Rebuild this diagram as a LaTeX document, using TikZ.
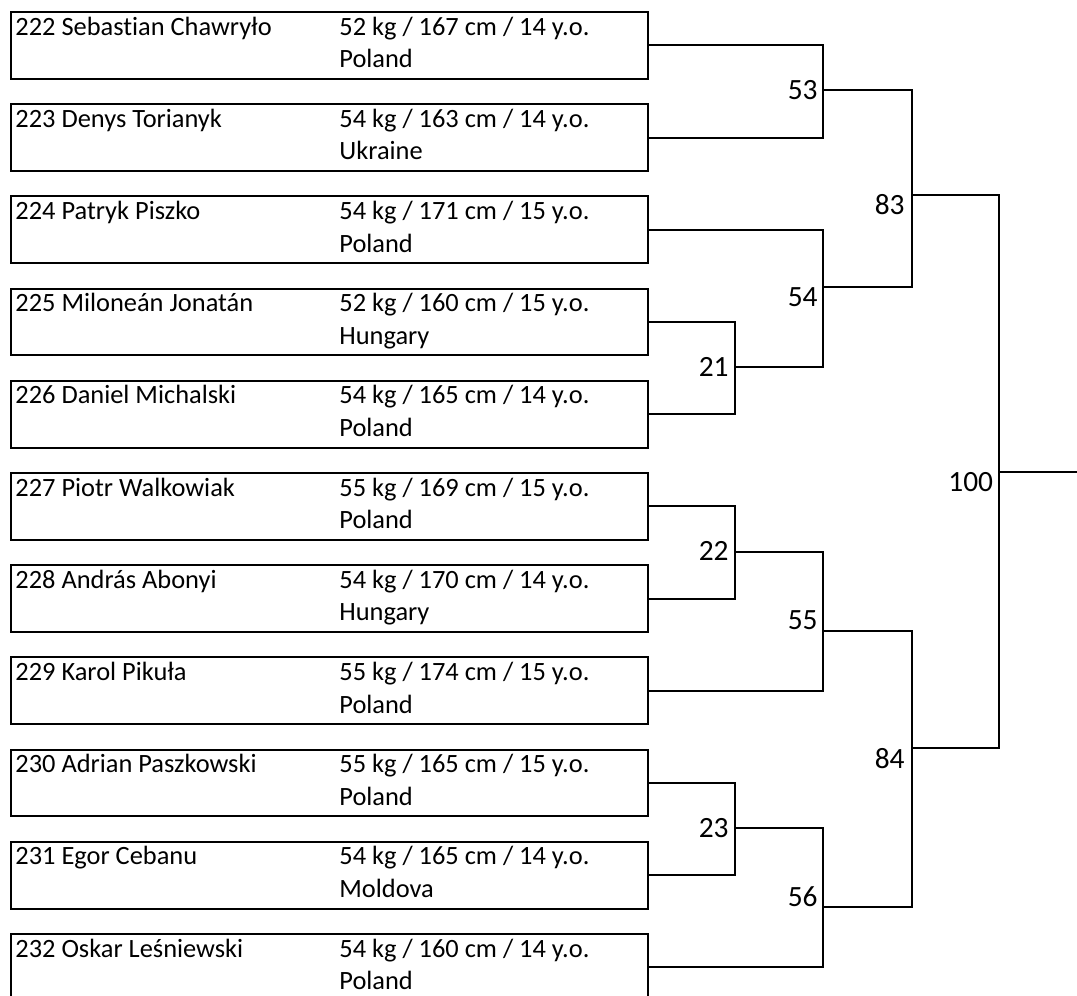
\documentclass[tikz,border=0pt]{standalone}
\usepackage{fontspec}
\setmainfont{Carlito}[Ligatures=NoCommon]
\usetikzlibrary{calc}

\tikzset{
  player/.style={draw, line width=1pt, rectangle, inner sep=0pt, anchor=north west,
                 minimum width=318.5pt, minimum height=33.35pt},
  info/.style={anchor=base west, inner sep=0pt, font=\fontsize{13.2}{16}\selectfont},
  score/.style={anchor=east, inner sep=0pt, font=\fontsize{14.7}{17}\selectfont},
  wire/.style={line width=1pt}
}

\begin{document}
\begin{tikzpicture}[x=0.5pt, y=-0.5pt]
			% Area del disegno
			\clip (0,0) rectangle (1077,996);
			
			% Caselle dei lottatori
			\foreach \i/\pname/\kgs/\cms/\age/\nat [evaluate=\i as \yt using 11+(\i-1)*92.2] in {
				1/222 Sebastian Chawryło/52/167/14/Poland,
				2/223 Denys Torianyk/54/163/14/Ukraine,
				3/224 Patryk Piszko/54/171/15/Poland,
				4/225 Miloneán Jonatán/52/160/15/Hungary,
				5/226 Daniel Michalski/54/165/14/Poland,
				6/227 Piotr Walkowiak/55/169/15/Poland,
				7/228 András Abonyi/54/170/14/Hungary,
				8/229 Karol Pikuła/55/174/15/Poland,
				9/230 Adrian Paszkowski/55/165/15/Poland,
				10/231 Egor Cebanu/54/165/14/Moldova,
				11/232 Oskar Leśniewski/54/160/14/Poland}
			{
				\node[player] (p\i) at (10,\yt) {};
				\node[info] (n\i) at (15,\yt+24) {\pname};
				\node[info] (s\i) at (339,\yt+24) {\kgs{} kg / \cms{} cm / \age{} y.o.};
				\node[info] (c\i) at (339,\yt+56.7) {\nat};
			}
			
			% Punti di incontro degli incontri
			\coordinate (m53)  at (823, 90);
			\coordinate (m21)  at (735, 367);
			\coordinate (m54)  at (823, 286.7);
			\coordinate (m22)  at (735, 551.7);
			\coordinate (m55)  at (823, 630.7);
			\coordinate (m23)  at (735, 828);
			\coordinate (m56)  at (823, 907.3);
			\coordinate (m83)  at (912, 195);
			\coordinate (m84)  at (912, 748.3);
			\coordinate (m100) at (999, 472);
			\coordinate (fin)  at (1077, 472);
			
			% Primo turno
			\draw[wire] (p1.east) -| (m53) |- (p2.east);
			\draw[wire] (p4.east) -| (m21) |- (p5.east);
			\draw[wire] (p6.east) -| (m22) |- (p7.east);
			\draw[wire] (p9.east) -| (m23) |- (p10.east);
			
			% Secondo turno
			\draw[wire] (p3.east) -| (m54) |- (m21);
			\draw[wire] (m22) -| (m55) |- (p8.east);
			\draw[wire] (m23) -| (m56) |- (p11.east);
			
			% Semifinali e finale
			\draw[wire] (m53) -| (m83) |- (m54);
			\draw[wire] (m55) -| (m84) |- (m56);
			\draw[wire] (m83) -| (m100) |- (m84);
			\draw[wire] (m100) -- (fin);
			
			% Numeri degli incontri
			\node[score] (l53)  at (818, 90)      {53};
			\node[score] (l21)  at (729, 367)     {21};
			\node[score] (l54)  at (818, 297.6)   {54};
			\node[score] (l22)  at (729, 551)     {22};
			\node[score] (l55)  at (818, 620.3)   {55};
			\node[score] (l23)  at (729, 827.7)   {23};
			\node[score] (l56)  at (818, 896.7)   {56};
			\node[score] (l83)  at (905, 205)     {83};
			\node[score] (l84)  at (905, 758.6)   {84};
			\node[score] (l100) at (993.5, 482.5) {100};
		\end{tikzpicture}
\end{document}
